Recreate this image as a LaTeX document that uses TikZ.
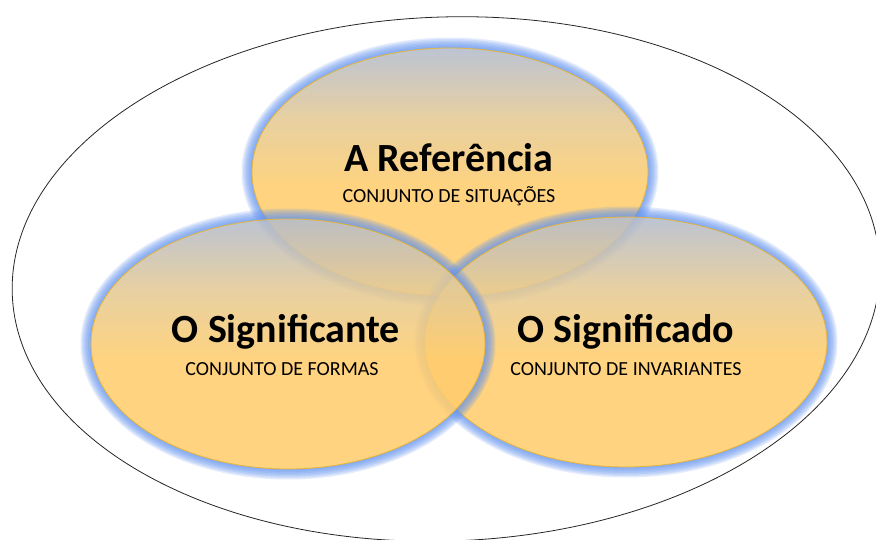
\documentclass[tikz,border=0pt]{standalone}
\usepackage{fontspec}
\setmainfont{Carlito}
\definecolor{glowblue}{RGB}{100,148,240}
\definecolor{topgray}{RGB}{180,188,205}
\definecolor{midtan}{RGB}{228,202,150}
\definecolor{gold}{RGB}{255,205,110}
\definecolor{goldline}{RGB}{226,180,60}
\pgfdeclareverticalshading{bubbleshade}{100bp}{color(0bp)=(gold); color(25bp)=(gold); color(47bp)=(gold); color(61bp)=(midtan); color(75bp)=(topgray); color(100bp)=(topgray)}
\newcommand{\drawbubble}[4]{%
  \foreach \k in {1.5,3,4.5,6,7.5,9,10.5}{%
    \fill[glowblue, fill opacity=0.18, even odd rule]
      (#1,#2) ellipse [x radius=#3+\k, y radius=#4+\k]
      (#1,#2) ellipse [x radius=#3, y radius=#4];
  }
  \shade[shading=bubbleshade, fill opacity=0.88] (#1,#2) ellipse [x radius=#3, y radius=#4];
  \draw[goldline, line width=0.8bp] (#1,#2) ellipse [x radius=#3, y radius=#4];
}
\tikzset{
  titletext/.style={anchor=base, inner sep=0pt, font=\fontsize{40bp}{46bp}\selectfont\bfseries},
  subtext/.style={anchor=base, inner sep=0pt, font=\fontsize{20bp}{24bp}\selectfont}
}
\begin{document}
\begin{tikzpicture}[x=1bp, y=-1bp]
\useasboundingbox (0,0) rectangle (876,540);
\fill[white] (0,0) rectangle (876,540);
% outer ellipse
\draw[black!85, line width=0.8bp, rotate around={2:(446,279)}] (446,279) ellipse [x radius=434, y radius=262];
% bubbles: top, right, left
\drawbubble{450}{172}{198}{124}
\drawbubble{626}{342}{201}{125}
\drawbubble{288}{344}{197}{125}
% texts
\node[titletext] (ref) at (449,172) {A Referência};
\node[subtext] (refsub) at (449,203) {CONJUNTO DE SITUAÇÕES};
\node[titletext] (sig) at (286,343) {O Significante};
\node[subtext] (sigsub) at (282,375) {CONJUNTO DE FORMAS};
\node[titletext] (sdo) at (626,343) {O Significado};
\node[subtext] (sdosub) at (626,375) {CONJUNTO DE INVARIANTES};
\end{tikzpicture}
\end{document}
